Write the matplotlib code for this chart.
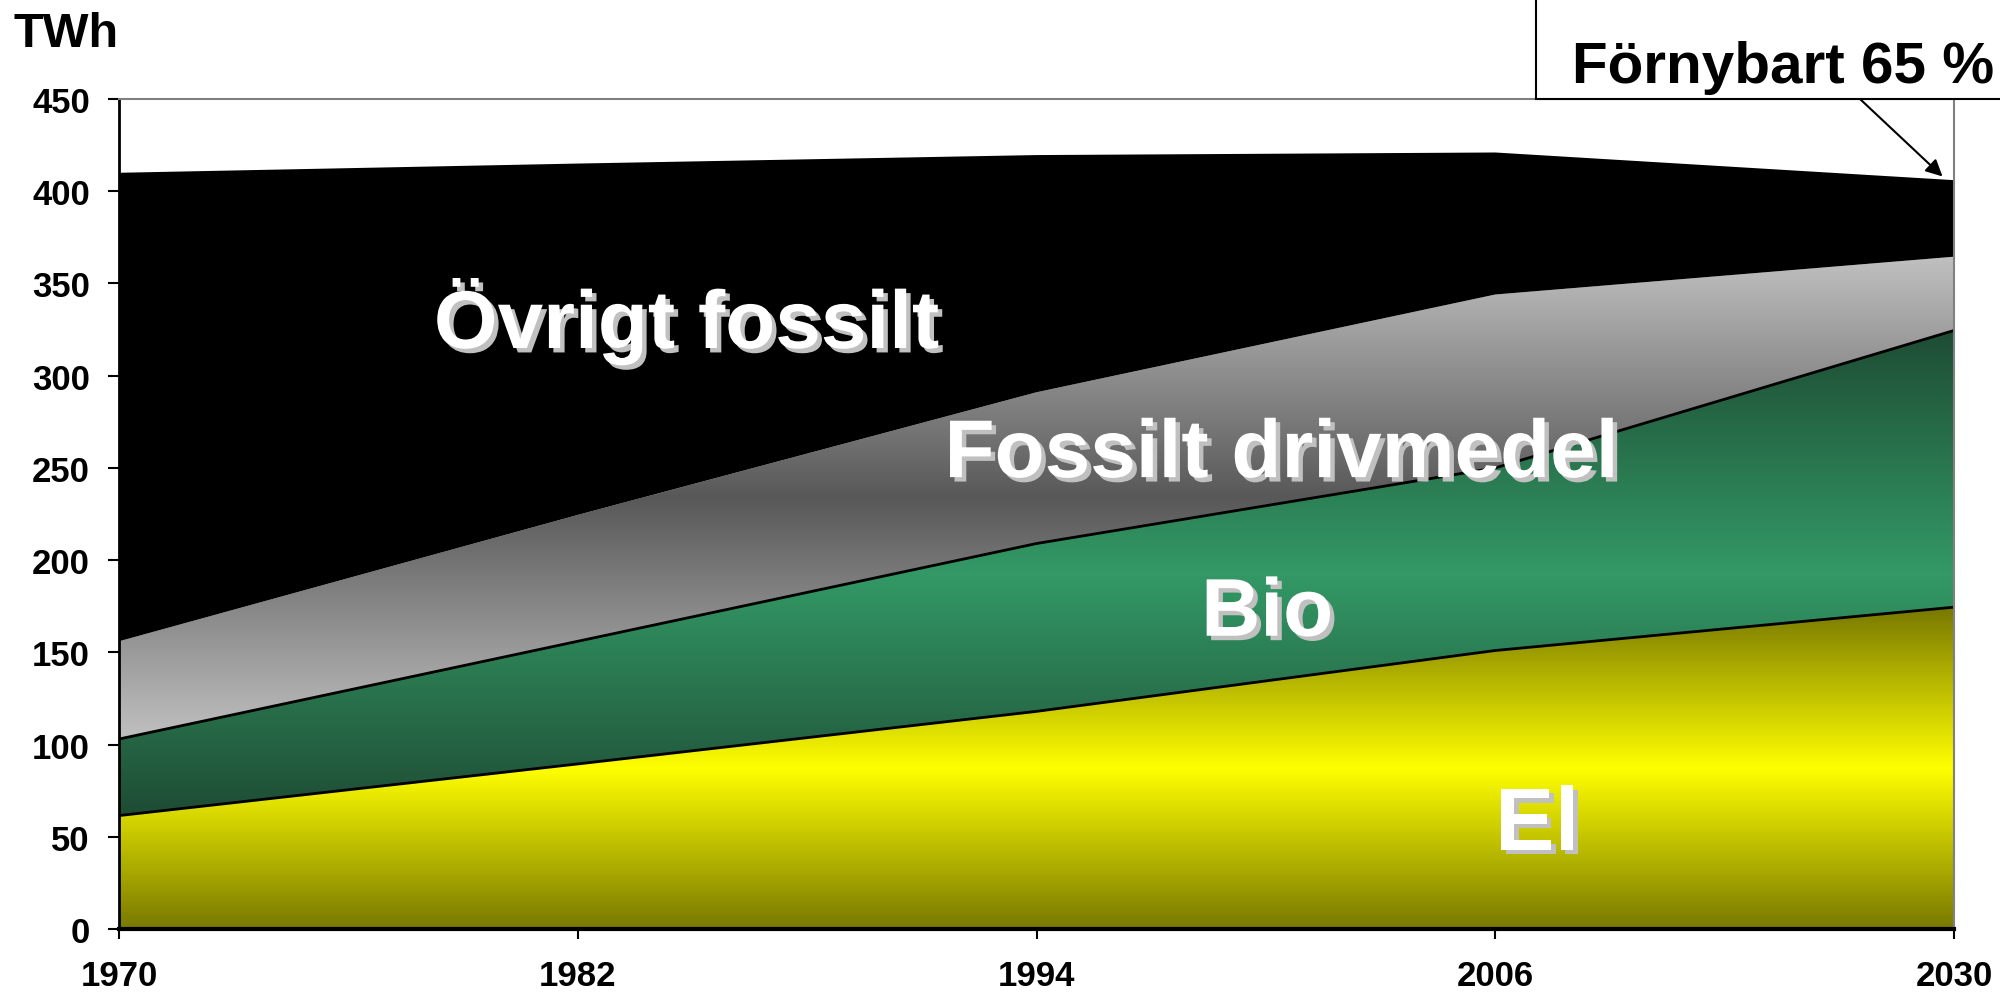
import numpy as np
import matplotlib.pyplot as plt
import matplotlib.patheffects as pe
from matplotlib.colors import to_rgb
from matplotlib.patches import Rectangle

# Energy use in TWh
years = ['1970', '1982', '1994', '2006', '2030']
el = [61.5, 89.5, 118, 151, 174.5]
bio = [41.5, 66.5, 91, 99, 150]
fossil_fuel = [53, 68.5, 82, 94, 40]
other_fossil = [254, 190.5, 128.6, 77, 41.5]

plt.rcParams['font.family'] = ['Liberation Sans', 'DejaVu Sans']
plt.rcParams['font.weight'] = 'bold'

fig = plt.figure(figsize=(20, 9.95), dpi=100)
ax = fig.add_axes([0.0595, 0.0653, 0.9175, 0.8342])

x = np.arange(len(years))
stack = np.cumsum([el, bio, fossil_fuel, other_fossil], axis=0)
lows = np.vstack([np.zeros(len(years)), stack[:-1]])


def gradient_fill(lo, hi, edge, center, z):
    # vertical gradient: edge colour at top and bottom, center colour in the middle
    poly = ax.fill_between(x, lo, hi, facecolor='none', edgecolor='none', zorder=z)
    t = np.linspace(0, 1, 256)
    w = 1 - np.abs(2 * t - 1)
    e = np.array(to_rgb(edge))
    c = np.array(to_rgb(center))
    img = e + (c - e) * w[:, None]
    im = ax.imshow(img[:, None, :], extent=(x[0], x[-1], lo.min(), hi.max()),
                   origin='lower', aspect='auto', interpolation='bilinear', zorder=z)
    im.set_clip_path(poly.get_paths()[0], transform=ax.transData)


gradient_fill(lows[0], stack[0], '#787800', '#ffff00', 1)
gradient_fill(lows[1], stack[1], '#1e4c34', '#339966', 1)
gradient_fill(lows[2], stack[2], '#c0c0c0', '#585858', 1)
ax.fill_between(x, lows[3], stack[3], facecolor='black', edgecolor='none', zorder=1)

ax.plot(x, stack[0], color='black', lw=2, zorder=2)
ax.plot(x, stack[1], color='black', lw=2, zorder=2)

ax.set_xlim(0, 4)
ax.set_ylim(0, 450)
ax.set_yticks(range(0, 451, 50))
ax.set_xticks(x)
ax.set_xticklabels(years)

ax.spines['left'].set_linewidth(2)
ax.spines['bottom'].set_linewidth(3)
for s in ['top', 'right']:
    ax.spines[s].set_color('#808080')
    ax.spines[s].set_linewidth(1.5)
ax.tick_params(axis='y', length=8, width=1.5, pad=13, labelsize=25)
ax.tick_params(axis='x', length=7.5, width=1.5, pad=14, labelsize=25)

# Labels inside the areas
shadow = [pe.withSimplePatchShadow(offset=(3.2, -3.2), shadow_rgbFace='#c0c0c0', alpha=1.0)]
ax.text(1.238, 315, 'Övrigt fossilt', color='white', fontsize=59, ha='center',
        va='baseline', path_effects=shadow, zorder=3)
ax.text(2.535, 245, 'Fossilt drivmedel', color='white', fontsize=59, ha='center',
        va='baseline', path_effects=shadow, zorder=3)
ax.text(2.503, 159, 'Bio', color='white', fontsize=59, ha='center',
        va='baseline', path_effects=shadow, zorder=3)
ax.text(3.092, 43, 'El', color='white', fontsize=64, ha='center',
        va='baseline', path_effects=shadow, zorder=3)

fig.text(13 / 2000, 1 - 47 / 995, 'TWh', fontsize=35, va='baseline')

# Callout box with arrow
fig.patches.append(Rectangle((1536 / 2000, 1 - 100 / 995), 0.5, 0.2, transform=fig.transFigure,
                             facecolor='white', edgecolor='black', lw=1.5, zorder=5))
fig.text(1572 / 2000, 1 - 83 / 995, 'Förnybart 65 %', fontsize=42, ha='left',
         va='baseline', zorder=6)
ax.annotate('', xy=(3.975, 408), xycoords='data',
            xytext=(1860 / 2000, 1 - 100 / 995), textcoords='figure fraction',
            arrowprops=dict(arrowstyle='-|>', color='black', lw=1.5,
                            mutation_scale=25, shrinkA=0, shrinkB=0),
            annotation_clip=False)

fig.savefig('out.png', dpi=100)
